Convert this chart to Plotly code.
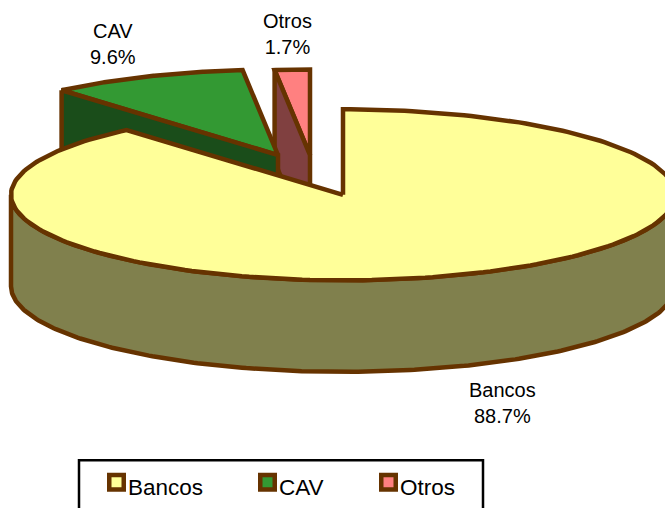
import numpy as np
import plotly.graph_objects as go

categories = ["Bancos", "CAV", "Otros"]
shares = [88.7, 9.6, 1.7]
top_colors = ["#FFFF99", "#339933", "#FF8080"]
side_colors = ["#80804D", "#1A4D1A", "#804040"]
edge = "#663300"
FONT = "Liberation Sans"

W, H = 665, 508
RX, RY, DEPTH = 332, 86, 92
centers = [(343, 196), (278, 156), (310, 156)]
legend_x = [96, 247, 368]

# slice angles, clockwise from 12 o'clock
cum = np.cumsum([0] + shares) / sum(shares) * 360.0
spans = [(cum[i], cum[i + 1]) for i in range(len(shares))]


def rim(c, a0, a1, dy=0, n=240):
    t = np.radians(np.linspace(a0, a1, n))
    return c[0] + RX * np.sin(t), c[1] - RY * np.cos(t) + dy


def poly(xs, ys, fill, width=4.5):
    return go.Scatter(x=list(xs), y=list(ys), mode="lines", fill="toself", fillcolor=fill,
                      line=dict(color=edge, width=width), hoverinfo="skip", showlegend=False)


def wedge(i):
    x, y = rim(centers[i], *spans[i])
    c = centers[i]
    return poly(np.r_[c[0], x, c[0]], np.r_[c[1], y, c[1]], top_colors[i])


def start_wall(i):
    c = centers[i]
    x, y = rim(c, spans[i][0], spans[i][0], n=1)
    return poly([x[0], c[0], c[0], x[0], x[0]],
                [y[0], c[1], c[1] + DEPTH, y[0] + DEPTH, y[0]], side_colors[i])


fig = go.Figure()

# Otros, then CAV, then Bancos: back to front
for i in (2, 1):
    fig.add_trace(wedge(i))
    fig.add_trace(start_wall(i))

xt, yt = rim(centers[0], 90, 270)
xb, yb = rim(centers[0], 270, 90, dy=DEPTH)
fig.add_trace(poly(np.r_[xt, xb, xt[0]], np.r_[yt, yb, yt[0]], side_colors[0]))
fig.add_trace(wedge(0))

# legend entries
names = ["legend", "legend2", "legend3"]
legends = {}
for i, cat in enumerate(categories):
    fig.add_trace(go.Scatter(x=[None], y=[None], mode="markers", name=cat, legend=names[i],
                             marker=dict(symbol="square", size=14.5, color=top_colors[i],
                                         line=dict(color=edge, width=4.5))))
    legends[names[i]] = dict(x=legend_x[i] / W, y=1 - 468 / H, xanchor="left", yanchor="top",
                             bgcolor="rgba(0,0,0,0)", borderwidth=0, indentation=-8,
                             font=dict(family=FONT, size=22.5, color="black"))

labels = [(502, 405.5), (113, 44), (287, 34)]
annotations = [
    dict(x=lx, y=ly, xref="x", yref="y", text=f"{cat}<br>{v:.1f}%", showarrow=False,
         font=dict(family=FONT, size=20, color="black"), align="center")
    for cat, v, (lx, ly) in zip(categories, shares, labels)
]

fig.update_layout(
    width=W, height=H, margin=dict(l=0, r=0, t=0, b=0), autosize=False,
    paper_bgcolor="white", plot_bgcolor="white",
    xaxis=dict(range=[0, W], visible=False, fixedrange=True),
    yaxis=dict(range=[H, 0], visible=False, fixedrange=True),
    annotations=annotations,
    shapes=[dict(type="rect", xref="paper", yref="paper", x0=79 / W, x1=483 / W,
                 y0=1 - 463 / H, y1=-0.1,
                 line=dict(color="black", width=2.5), fillcolor="white", layer="below")],
    **legends,
)

post = """
document.body.style.margin='0';
document.documentElement.style.overflow='hidden';
document.querySelectorAll('.legendsymbols').forEach(function(g){
  g.setAttribute('transform','translate(8.5,-4)');
});
document.querySelectorAll('.legendpoints path, .scatterlayer .js-line').forEach(function(p){
  p.style.strokeLinejoin='miter';
});
"""
fig.write_html("out.html", config={"displayModeBar": False}, post_script=post)
